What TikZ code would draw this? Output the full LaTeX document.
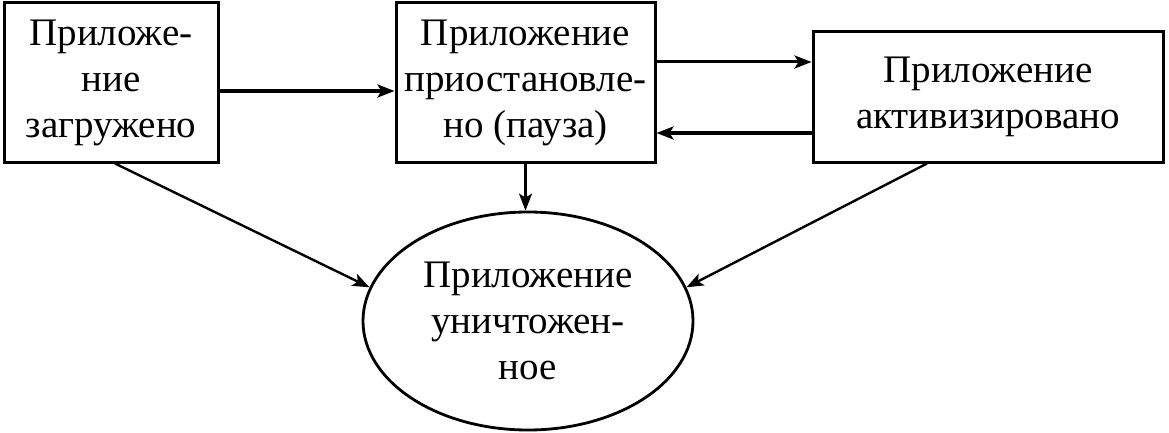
\documentclass[tikz,border=0pt]{standalone}
\usepackage{fontspec}
\setmainfont{Liberation Serif}
\usetikzlibrary{shapes.geometric,arrows.meta}
\begin{document}
\begin{tikzpicture}[x=1pt,y=-1pt,
  every node/.style={font=\fontsize{39}{46}\selectfont, align=center, inner sep=0pt},
  statebox/.style={draw, line width=3pt},
  arr/.style={line width=3pt, -{Stealth[length=17pt,width=13pt,inset=4pt]}},
  thinarr/.style={line width=2.4pt, -{Stealth[length=17pt,width=13pt,inset=4pt]}}]
\useasboundingbox (0,0) rectangle (1169,433);
\node[statebox, minimum width=214pt, minimum height=159pt] (b1) at (111,82.5) {Приложе-\\ние\\загружено};
\node[statebox, minimum width=259pt, minimum height=159pt] (b2) at (525.5,82.5) {Приложение\\приостановле-\\но (пауза)};
\node[statebox, minimum width=350pt, minimum height=130pt] (b3) at (988,97) {Приложение\\активизировано};
\node[draw, ellipse, line width=2.8pt, minimum width=330pt, minimum height=218pt] (e) at (528,321) {Приложение\\уничтожен-\\ное};
\draw[arr, line width=4.5pt] ([yshift=-8.5pt]b1.east) -- ([yshift=-8.5pt]b1.east -| b2.west);
\draw[arr] ([yshift=20.5pt]b2.east) -- ([yshift=20.5pt]b2.east -| b3.west);
\draw[arr] ([yshift=-36pt]b3.west) -- ([yshift=-36pt]b3.west -| b2.east);
\draw[thinarr] (b2.south) -- (b2.south |- e.north);
\draw[thinarr] ([xshift=4pt]b1.south) -- (e.168);
\draw[thinarr] ([xshift=-61pt]b3.south) -- (e.12);
\end{tikzpicture}
\end{document}
